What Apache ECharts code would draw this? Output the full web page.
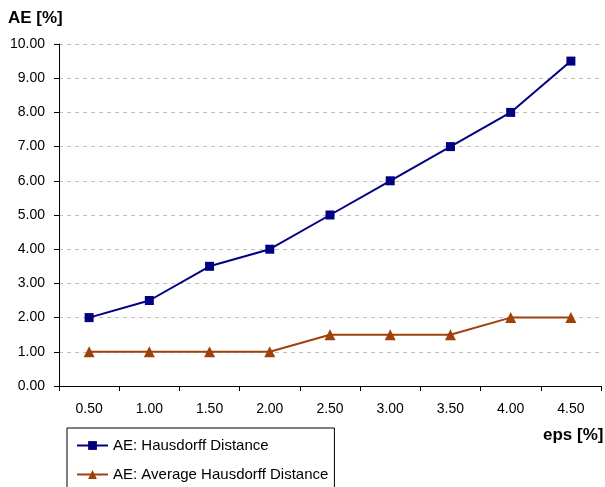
<!DOCTYPE html>
<html><head><meta charset="utf-8">
<script src="https://cdn.jsdelivr.net/npm/echarts@6/dist/echarts.min.js"></script>
<style>html,body{margin:0;padding:0;background:#fff}#c{width:605px;height:487px}</style>
</head><body><div id="c"></div>
<script>
const categories = ['0.50','1.00','1.50','2.00','2.50','3.00','3.50','4.00','4.50'];
const hausdorff = [2, 2.5, 3.5, 4, 5, 6, 7, 8, 9.5];
const avgHausdorff = [1, 1, 1, 1, 1.5, 1.5, 1.5, 2, 2];
const seriesNames = ['AE: Hausdorff Distance', 'AE: Average Hausdorff Distance'];
const font = 'Liberation Sans';
const chart = echarts.init(document.getElementById('c'), null, {renderer: 'canvas'});
chart.setOption({
  animation: false,
  backgroundColor: '#fff',
  textStyle: {fontFamily: font},
  grid: {left: 59, right: 4, top: 44, bottom: 101, containLabel: false},
  graphic: [
    {type: 'text', left: 8, top: 10, style: {text: 'AE [%]', font: 'bold 17px "Liberation Sans"', fill: '#000'}},
    {type: 'text', left: 543, top: 427, style: {text: 'eps [%]', font: 'bold 17px "Liberation Sans"', fill: '#000'}}
  ],
  legend: {
    orient: 'vertical', left: 67, top: 428, height: 80,
    padding: [10, 6, 12, 9], itemGap: 14,
    itemWidth: 31, itemHeight: 11,
    borderColor: '#000', borderWidth: 1,
    textStyle: {fontFamily: font, fontSize: 15, color: '#000'},
    data: seriesNames
  },
  xAxis: {
    type: 'category', data: categories, boundaryGap: true,
    axisLine: {lineStyle: {color: '#000', width: 1}},
    axisTick: {show: true, length: 5, lineStyle: {color: '#000'}},
    axisLabel: {color: '#000', fontFamily: font, fontSize: 14, margin: 16}
  },
  yAxis: {
    type: 'value', min: 0, max: 10, interval: 1,
    axisLine: {show: true, lineStyle: {color: '#000', width: 1}},
    axisTick: {show: true, length: 5, lineStyle: {color: '#000'}},
    axisLabel: {color: '#000', fontFamily: font, fontSize: 14, margin: 14, formatter: v => v.toFixed(2)},
    splitLine: {show: true, lineStyle: {color: '#c0c0c0', type: [4, 4], width: 1}}
  },
  series: [
    {name: seriesNames[0], type: 'line', data: hausdorff, symbol: 'rect', symbolSize: 9,
     lineStyle: {color: '#000080', width: 2}, itemStyle: {color: '#000080'}},
    {name: seriesNames[1], type: 'line', data: avgHausdorff, symbol: 'triangle', symbolSize: 11,
     lineStyle: {color: '#a0400a', width: 2}, itemStyle: {color: '#a0400a'}}
  ]
});
</script></body></html>
